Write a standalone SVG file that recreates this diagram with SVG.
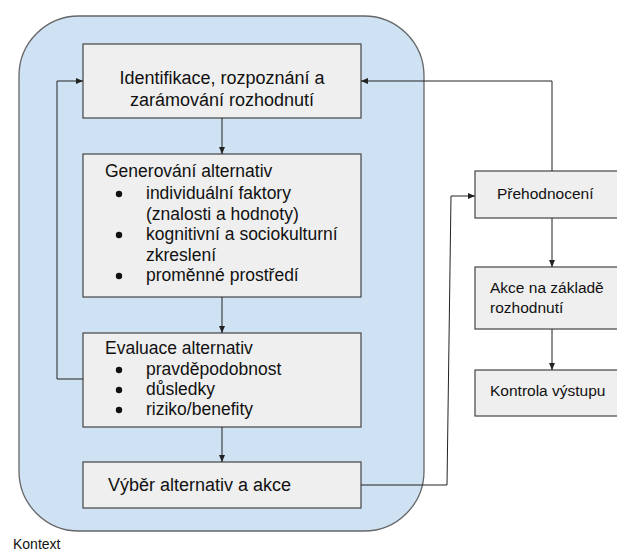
<svg xmlns="http://www.w3.org/2000/svg" width="617" height="552" viewBox="0 0 617 552">
<style>
.ctx{fill:#cfe2f3;stroke:#666;stroke-width:1.3}
.box{fill:#efefef;stroke:#444;stroke-width:1.2}
text{font-family:"Liberation Sans",Arial,sans-serif;fill:#111}
.big{font-size:18px}
.mid{font-size:17.5px}
.sm{font-size:15.5px}
.bul{fill:#111}
.con{fill:none;stroke:#222;stroke-width:1}
</style>
<defs>
<marker id="ah" markerWidth="8" markerHeight="6" refX="7" refY="3" orient="auto" markerUnits="userSpaceOnUse">
<path d="M0,0 L7,3 L0,6 z" fill="#222"/>
</marker>
</defs>
<rect class="ctx" x="19" y="16" width="405" height="515" rx="60" ry="60"/>
<text x="13" y="549" style="font-size:14px">Kontext</text>
<g id="n1">
<rect class="box" x="83" y="44" width="278" height="74"/>
<text class="big" x="222" y="84" text-anchor="middle">Identifikace, rozpoznání a</text>
<text class="big" x="222" y="106" text-anchor="middle">zarámování rozhodnutí</text>
</g>
<g id="n2">
<rect class="box" x="83" y="154" width="278" height="143"/>
<text class="mid" x="105" y="177">Generování alternativ</text>
<circle class="bul" cx="119" cy="194" r="3.2"/><text class="mid" x="146" y="199">individuální faktory</text>
<text class="mid" x="146" y="220">(znalosti a hodnoty)</text>
<circle class="bul" cx="119" cy="235" r="3.2"/><text class="mid" x="146" y="240">kognitivní a sociokulturní</text>
<text class="mid" x="146" y="261">zkreslení</text>
<circle class="bul" cx="119" cy="276" r="3.2"/><text class="mid" x="146" y="281">proměnné prostředí</text>
</g>
<g id="n3">
<rect class="box" x="83" y="333" width="278" height="94"/>
<text class="mid" x="105" y="354">Evaluace alternativ</text>
<circle class="bul" cx="119" cy="370" r="3.2"/><text class="mid" x="146" y="375">pravděpodobnost</text>
<circle class="bul" cx="119" cy="390" r="3.2"/><text class="mid" x="146" y="395">důsledky</text>
<circle class="bul" cx="119" cy="410" r="3.2"/><text class="mid" x="146" y="415">riziko/benefity</text>
</g>
<g id="n4">
<rect class="box" x="83" y="462" width="278" height="46"/>
<text class="big" x="108" y="491">Výběr alternativ a akce</text>
</g>
<g id="n5">
<rect class="box" x="475" y="171" width="143" height="47"/>
<text class="sm" x="497" y="199">Přehodnocení</text>
</g>
<g id="n6">
<rect class="box" x="475" y="267" width="143" height="62"/>
<text class="sm" x="490" y="293">Akce na základě</text>
<text class="sm" x="490" y="313">rozhodnutí</text>
</g>
<g id="n7">
<rect class="box" x="475" y="370" width="143" height="46"/>
<text class="sm" x="490" y="396">Kontrola výstupu</text>
</g>
<g id="connectors">
<path class="con" d="M222,118 V154" marker-end="url(#ah)"/>
<path class="con" d="M222,297 V333" marker-end="url(#ah)"/>
<path class="con" d="M222,427 V462" marker-end="url(#ah)"/>
<path class="con" d="M83,379 H57 V81 H83" marker-end="url(#ah)"/>
<path class="con" d="M361,485 H447 L451,196 H475" marker-end="url(#ah)"/>
<path class="con" d="M552,171 V81 H361" marker-end="url(#ah)"/>
<path class="con" d="M552,218 V267" marker-end="url(#ah)"/>
<path class="con" d="M552,329 V370" marker-end="url(#ah)"/>
</g>
</svg>
